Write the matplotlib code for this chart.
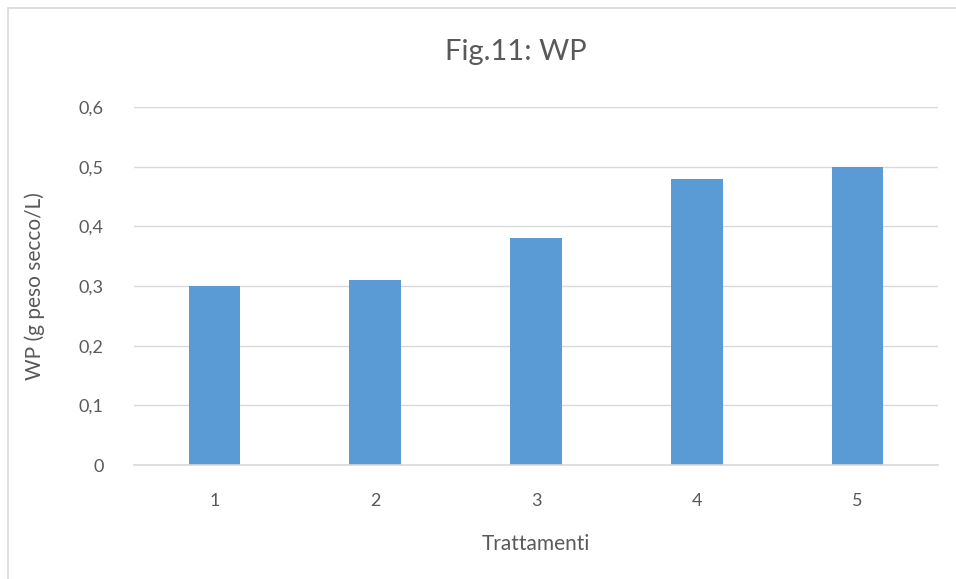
import matplotlib
matplotlib.use("Agg")
import matplotlib.pyplot as plt
from matplotlib.patches import Rectangle

categories = ["1", "2", "3", "4", "5"]
values = [0.30, 0.31, 0.38, 0.48, 0.50]
yticks = [0, 0.1, 0.2, 0.3, 0.4, 0.5, 0.6]
ytick_labels = ["0", "0,1", "0,2", "0,3", "0,4", "0,5", "0,6"]

W, H = 956, 579
plt.rcParams['font.family'] = ['Lato', 'DejaVu Sans']
fig = plt.figure(figsize=(W/100, H/100), dpi=100)
fig.patch.set_facecolor('white')

# chart border
fig.patches.append(Rectangle((7.5/W, -0.01), 1.0, 1 - 7.5/H + 0.01, transform=fig.transFigure,
                             fill=False, edgecolor='#D9D9D9', linewidth=1.2))

ax = fig.add_axes([134/W, 1 - 465/H, (938 - 134)/W, (465 - 107)/H])
x = list(range(len(categories)))
ax.bar(x, values, width=0.32, color='#5B9BD5', zorder=3)
ax.set_xlim(-0.5, len(categories) - 0.5)
ax.set_ylim(0, 0.6)
ax.set_yticks(yticks)
ax.set_yticklabels(ytick_labels)
ax.set_xticks(x)
ax.set_xticklabels(categories)
ax.grid(axis='y', color='#D9D9D9', linewidth=1, zorder=0)
for s in ['top', 'right', 'left']:
    ax.spines[s].set_visible(False)
ax.spines['bottom'].set_color('#D9D9D9')
ax.spines['bottom'].set_linewidth(1.2)
ax.spines['bottom'].set_zorder(4)
ax.tick_params(axis='both', length=0, labelsize=13, colors='#595959')
ax.tick_params(axis='y', pad=22)
ax.tick_params(axis='x', pad=20)
ax.set_xlabel("Trattamenti", fontsize=15, color='#595959', labelpad=18)
ax.set_ylabel("WP (g peso secco/L)", fontsize=15, color='#595959', labelpad=24)
fig.text(516/W, 1 - 52/H, "Fig.11: WP", ha='center', va='center', fontsize=21, color='#595959')

fig.savefig("out.png", dpi=100, facecolor='white')
